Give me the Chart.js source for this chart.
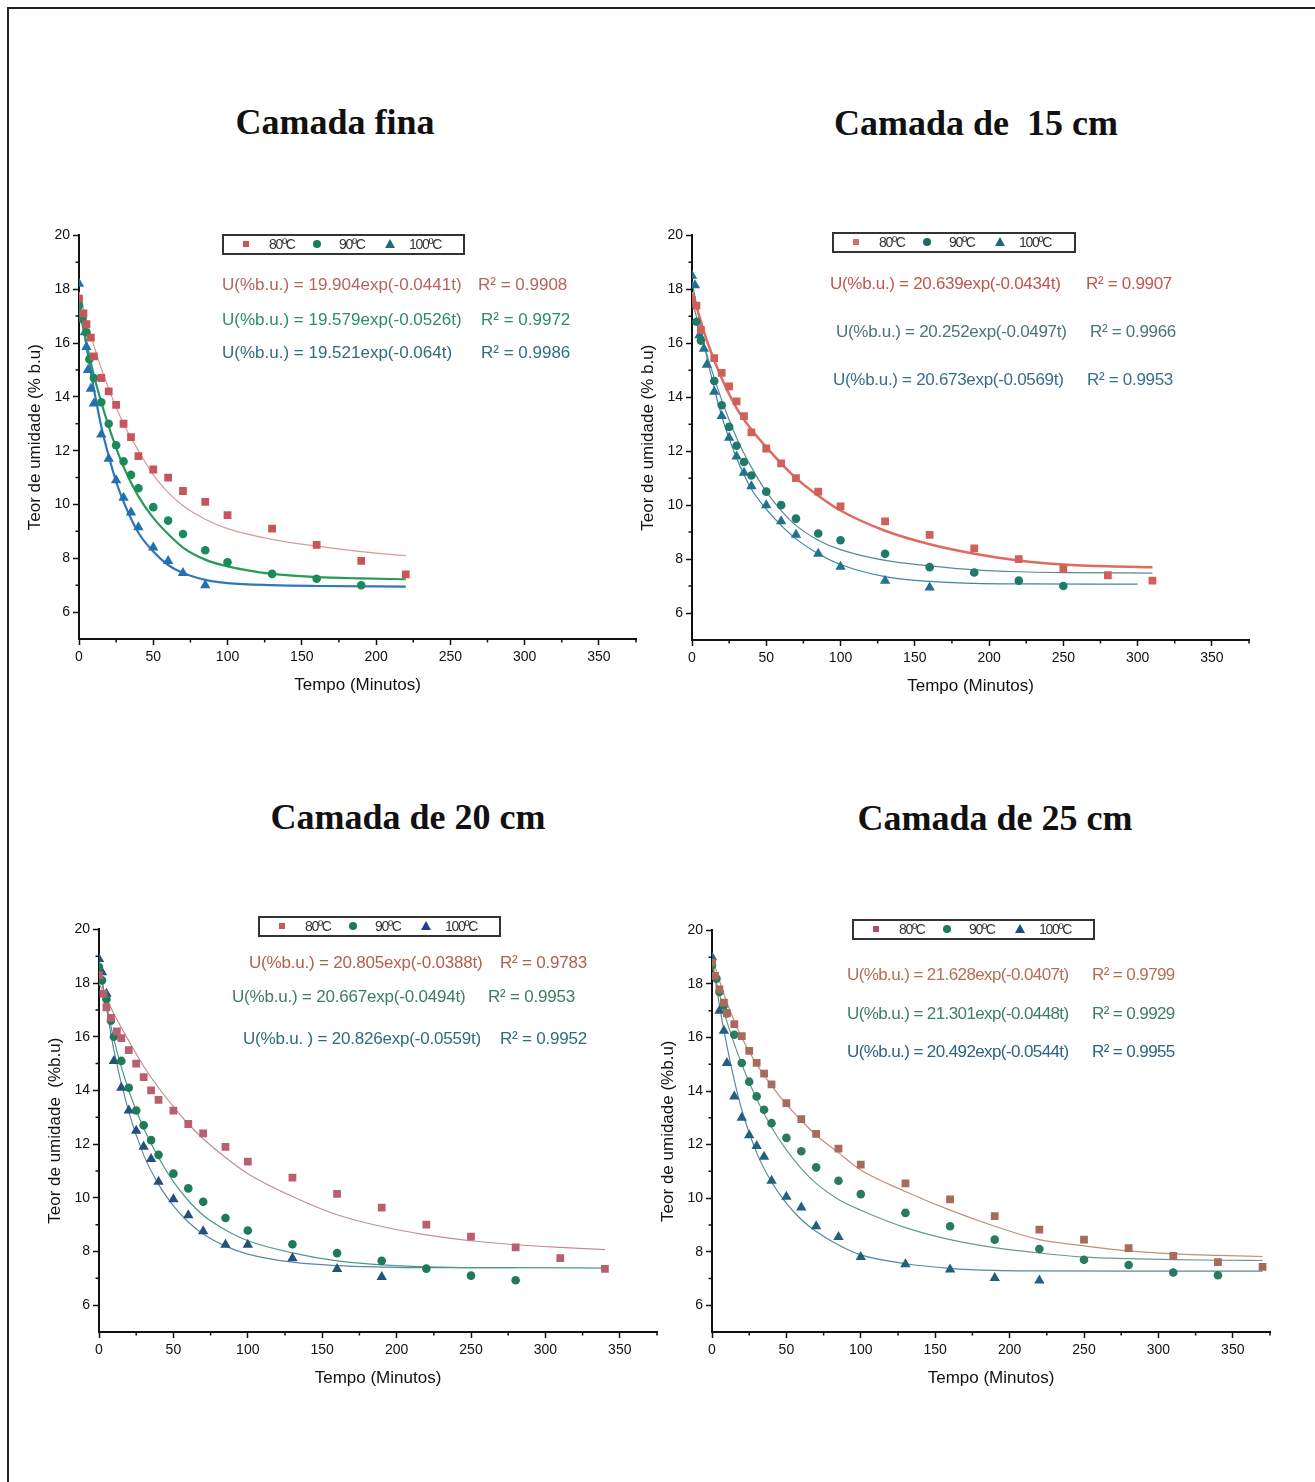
<!DOCTYPE html>
<html>
<head>
<meta charset="utf-8">
<script src="https://cdn.jsdelivr.net/npm/chart.js@4.4.0/dist/chart.umd.min.js"></script>
<style>
	body { margin: 0; background: #fff; width: 1315px; height: 1482px; position: relative; overflow: hidden; font-family: "Liberation Sans", Arial, sans-serif; }
	.frame { position: absolute; left: 7px; top: 7px; width: 1330px; height: 1500px; border-top: 2px solid #222; border-left: 2px solid #222; }
	.title { position: absolute; font: bold 36px "Liberation Serif", "Times New Roman", serif; color: #111; line-height: 42px; transform: translateX(-50%); white-space: pre; }
	canvas { position: absolute; }
	.eq { position: absolute; font-size: 17px; line-height: 20px; white-space: pre; }
	.legend { position: absolute; height: 17px; border: 2px solid #333; background: #fff; }
	.legend span { position: absolute; top: 0; font-size: 14px; line-height: 17px; letter-spacing: -1.3px; color: #333; }
</style>
</head>
<body>
<div class="frame"></div>

<script>
// tick values
const xTicks = [0, 50, 100, 150, 200, 250, 300, 350];
const xMinor = [25, 75, 125, 175, 225, 275, 325, 375];
const yTicks = [6, 8, 10, 12, 14, 16, 18, 20];
const yMinor = [7, 9, 11, 13, 15, 17, 19];
const temps = ['80ºC', '90ºC', '100ºC'];

// Camada fina: [tempo (min), U (%b.u.)]
const fina80 = [[0, 17.65], [3, 17.1], [5, 16.7], [8, 16.2], [10, 15.5], [15, 14.7], [20, 14.2], [25, 13.7], [30, 13.0], [35, 12.5], [40, 11.8], [50, 11.3], [60, 11.0], [70, 10.5], [85, 10.1], [100, 9.6], [130, 9.1], [160, 8.5], [190, 7.9], [220, 7.4]];
const fina90 = [[0, 17.4], [2, 16.9], [5, 16.4], [7, 15.4], [10, 14.7], [15, 13.8], [20, 13.0], [25, 12.2], [30, 11.6], [35, 11.1], [40, 10.6], [50, 9.9], [60, 9.4], [70, 8.9], [85, 8.3], [100, 7.85], [130, 7.42], [160, 7.24], [190, 7.0]];
const fina100 = [[0, 18.2], [2, 17.0], [4, 16.4], [5, 15.85], [6, 15.0], [8, 14.3], [10, 13.75], [15, 12.6], [20, 11.7], [25, 10.9], [30, 10.25], [35, 9.7], [40, 9.15], [50, 8.4], [60, 7.9], [70, 7.45], [85, 7.0]];
const finaFit80 = [[0, 17.9], [10, 15.9], [20, 14.3], [30, 13.0], [40, 12.0], [50, 11.1], [60, 10.45], [70, 9.95], [85, 9.45], [100, 9.1], [130, 8.7], [160, 8.45], [190, 8.25], [220, 8.1]];
const finaFit90 = [[0, 17.3], [5, 16.0], [10, 14.8], [15, 13.8], [20, 12.9], [25, 12.1], [30, 11.4], [40, 10.3], [50, 9.5], [60, 8.9], [70, 8.4], [85, 7.95], [100, 7.7], [130, 7.42], [160, 7.3], [190, 7.25], [220, 7.22]];
const finaFit100 = [[0, 17.8], [5, 15.9], [10, 14.3], [15, 12.9], [20, 11.8], [25, 10.85], [30, 10.1], [40, 8.95], [50, 8.25], [60, 7.75], [70, 7.45], [85, 7.2], [100, 7.08], [130, 7.0], [160, 6.97], [220, 6.95]];

// Camada de 15 cm
const c15_80 = [[0, 17.6], [3, 17.4], [6, 16.5], [15, 15.45], [20, 14.9], [25, 14.4], [30, 13.85], [35, 13.3], [40, 12.7], [50, 12.1], [60, 11.55], [70, 11.0], [85, 10.5], [100, 9.95], [130, 9.4], [160, 8.9], [190, 8.4], [220, 8.0], [250, 7.65], [280, 7.4], [310, 7.2]];
const c15_90 = [[0, 17.5], [3, 16.8], [6, 16.1], [15, 14.6], [20, 13.7], [25, 12.9], [30, 12.2], [35, 11.6], [40, 11.1], [50, 10.5], [60, 10.0], [70, 9.5], [85, 8.95], [100, 8.7], [130, 8.2], [160, 7.7], [190, 7.5], [220, 7.2], [250, 7.0]];
const c15_100 = [[0, 18.5], [2, 18.15], [5, 16.3], [8, 15.8], [10, 15.2], [15, 14.2], [20, 13.3], [25, 12.5], [30, 11.8], [35, 11.2], [40, 10.7], [50, 10.0], [60, 9.4], [70, 8.9], [85, 8.2], [100, 7.72], [130, 7.2], [160, 6.95]];
const c15Fit80 = [[0, 17.9], [5, 17.0], [10, 16.1], [20, 14.7], [30, 13.6], [40, 12.8], [50, 12.15], [60, 11.55], [70, 11.0], [85, 10.35], [100, 9.8], [130, 9.05], [160, 8.55], [190, 8.2], [220, 7.95], [250, 7.8], [280, 7.73], [310, 7.7]];
const c15Fit90 = [[0, 17.6], [10, 15.6], [20, 13.9], [30, 12.5], [40, 11.4], [50, 10.5], [60, 9.8], [70, 9.25], [85, 8.7], [100, 8.35], [130, 7.95], [160, 7.75], [190, 7.6], [220, 7.53], [250, 7.5], [310, 7.48]];
const c15Fit100 = [[0, 18.3], [10, 15.5], [20, 13.3], [30, 11.75], [40, 10.6], [50, 9.85], [60, 9.25], [70, 8.75], [85, 8.2], [100, 7.8], [130, 7.35], [160, 7.17], [190, 7.1], [220, 7.08], [300, 7.07]];

// Camada de 20 cm
const c20_80 = [[0, 18.3], [3, 17.6], [5, 17.1], [8, 16.7], [12, 16.2], [15, 15.95], [20, 15.5], [25, 15.0], [30, 14.5], [35, 14.0], [40, 13.65], [50, 13.25], [60, 12.75], [70, 12.4], [85, 11.9], [100, 11.35], [130, 10.75], [160, 10.15], [190, 9.63], [220, 9.0], [250, 8.55], [280, 8.15], [310, 7.75], [340, 7.35]];
const c20_90 = [[0, 18.6], [2, 18.1], [5, 17.4], [8, 16.6], [10, 16.0], [15, 15.1], [20, 14.1], [25, 13.25], [30, 12.7], [35, 12.15], [40, 11.6], [50, 10.9], [60, 10.35], [70, 9.85], [85, 9.25], [100, 8.78], [130, 8.27], [160, 7.94], [190, 7.65], [220, 7.36], [250, 7.1], [280, 6.93]];
const c20_100 = [[0, 18.9], [2, 18.4], [5, 17.6], [10, 15.1], [15, 14.1], [20, 13.25], [25, 12.5], [30, 11.9], [35, 11.45], [40, 10.6], [50, 9.95], [60, 9.35], [70, 8.75], [85, 8.25], [100, 8.25], [130, 7.75], [160, 7.35], [190, 7.05]];
const c20Fit80 = [[0, 18.0], [10, 16.86], [20, 15.85], [30, 14.9], [40, 14.1], [50, 13.4], [60, 12.75], [70, 12.2], [85, 11.5], [100, 10.9], [130, 10.05], [160, 9.37], [190, 8.93], [220, 8.62], [250, 8.4], [280, 8.25], [310, 8.15], [340, 8.07]];
const c20Fit90 = [[0, 18.6], [10, 15.9], [20, 14.0], [30, 12.6], [40, 11.5], [50, 10.6], [60, 9.9], [70, 9.35], [85, 8.8], [100, 8.4], [130, 7.95], [160, 7.65], [190, 7.5], [220, 7.43], [250, 7.4], [280, 7.4], [340, 7.38]];
const c20Fit100 = [[0, 18.8], [10, 15.5], [20, 13.2], [30, 11.6], [40, 10.5], [50, 9.7], [60, 9.1], [70, 8.65], [85, 8.2], [100, 7.9], [130, 7.6], [160, 7.47], [190, 7.42], [220, 7.4], [280, 7.4]];

// Camada de 25 cm
const c25_80 = [[0, 18.8], [2, 18.3], [5, 17.8], [8, 17.3], [10, 16.9], [15, 16.5], [20, 16.05], [25, 15.5], [30, 15.05], [35, 14.65], [40, 14.25], [50, 13.55], [60, 12.95], [70, 12.4], [85, 11.85], [100, 11.25], [130, 10.55], [160, 9.95], [190, 9.33], [220, 8.82], [250, 8.45], [280, 8.13], [310, 7.84], [340, 7.61], [370, 7.43]];
const c25_90 = [[0, 18.7], [3, 18.2], [5, 17.7], [8, 17.2], [10, 16.9], [15, 16.1], [20, 15.05], [25, 14.35], [30, 13.8], [35, 13.3], [40, 12.8], [50, 12.25], [60, 11.75], [70, 11.15], [85, 10.65], [100, 10.15], [130, 9.45], [160, 8.95], [190, 8.45], [220, 8.1], [250, 7.7], [280, 7.5], [310, 7.22], [340, 7.12]];
const c25_100 = [[0, 19.0], [5, 17.0], [8, 16.25], [10, 15.05], [15, 13.8], [20, 13.0], [25, 12.35], [30, 11.95], [35, 11.55], [40, 10.65], [50, 10.05], [60, 9.65], [70, 8.95], [85, 8.55], [100, 7.8], [130, 7.53], [160, 7.33], [190, 7.02], [220, 6.92]];
const c25Fit80 = [[0, 19.0], [10, 17.3], [20, 16.0], [30, 15.0], [40, 14.2], [50, 13.5], [60, 12.9], [70, 12.35], [85, 11.7], [100, 11.05], [130, 10.25], [160, 9.55], [190, 8.95], [220, 8.45], [250, 8.22], [280, 8.03], [310, 7.92], [340, 7.86], [370, 7.82]];
const c25Fit90 = [[0, 18.7], [10, 16.6], [20, 15.0], [30, 13.7], [40, 12.65], [50, 11.8], [60, 11.1], [70, 10.55], [85, 9.95], [100, 9.55], [130, 8.9], [160, 8.45], [190, 8.15], [220, 7.95], [250, 7.8], [280, 7.74], [310, 7.7], [340, 7.68], [370, 7.67]];
const c25Fit100 = [[0, 19.0], [5, 17.2], [10, 15.7], [15, 14.4], [20, 13.3], [30, 11.7], [40, 10.6], [50, 9.8], [60, 9.2], [70, 8.75], [85, 8.25], [100, 7.88], [130, 7.55], [160, 7.38], [190, 7.3], [220, 7.28], [280, 7.27], [370, 7.27]];

// equations shown on each plot
const finaEq = [['U(%b.u.) = 19.904exp(-0.0441t)', 'R² = 0.9908'], ['U(%b.u.) = 19.579exp(-0.0526t)', 'R² = 0.9972'], ['U(%b.u.) = 19.521exp(-0.064t)', 'R² = 0.9986']];
const c15Eq = [['U(%b.u.) = 20.639exp(-0.0434t)', 'R² = 0.9907'], ['U(%b.u.) = 20.252exp(-0.0497t)', 'R² = 0.9966'], ['U(%b.u.) = 20.673exp(-0.0569t)', 'R² = 0.9953']];
const c20Eq = [['U(%b.u.) = 20.805exp(-0.0388t)', 'R² = 0.9783'], ['U(%b.u.) = 20.667exp(-0.0494t)', 'R² = 0.9953'], ['U(%b.u. ) = 20.826exp(-0.0559t)', 'R² = 0.9952']];
const c25Eq = [['U(%b.u.) = 21.628exp(-0.0407t)', 'R² = 0.9799'], ['U(%b.u.) = 21.301exp(-0.0448t)', 'R² = 0.9929'], ['U(%b.u.) = 20.492exp(-0.0544t)', 'R² = 0.9955']];

const font = '"Liberation Sans", Arial, sans-serif';

const panels = [
	{
		title: 'Camada fina', tx: 335, ty: 122, yTitle: 'Teor de umidade (% b.u)',
		box: {left: 19, top: 224, w: 627, h: 475},
		legend: {left: 222, top: 234, w: 243, colors: ['#d05050', '#1a7a60', '#1a6a78']},
		points: [fina80, fina90, fina100], fits: [finaFit80, finaFit90, finaFit100],
		pointColors: ['#c8555a', '#1b8a5a', '#2270b0'],
		lineColors: ['#d99a9a', '#2a9a58', '#2f78c0'], lineWidths: [1.2, 2.2, 2.2],
		eq: finaEq, eqPos: [[222, 285, 478], [222, 320, 481], [222, 353, 481]], eqSpacing: 0,
		eqColors: ['#b5655e', '#2c8a6e', '#2f6d80']
	},
	{
		title: 'Camada de  15 cm', tx: 976, ty: 123, yTitle: 'Teor de umidade (% b.u)',
		box: {left: 632, top: 224, w: 627, h: 476},
		legend: {left: 832, top: 232, w: 244, colors: ['#d07060', '#1a6a60', '#1f6a8a']},
		points: [c15_80, c15_90, c15_100], fits: [c15Fit80, c15Fit90, c15Fit100],
		pointColors: ['#d0605a', '#1f7a6a', '#23708f'],
		lineColors: ['#e06a60', '#5a8a90', '#3a88a8'], lineWidths: [2.5, 1.2, 1.2],
		eq: c15Eq, eqPos: [[830, 284, 1086], [836, 332, 1090], [833, 380, 1087]], eqSpacing: -0.3,
		eqColors: ['#c0564e', '#4b7479', '#3a6d8a']
	},
	{
		title: 'Camada de 20 cm', tx: 408, ty: 817, yTitle: 'Teor de umidade  (%b.u)',
		box: {left: 39, top: 918, w: 628, h: 474},
		legend: {left: 258, top: 916, w: 243, colors: ['#c85a50', '#1a7a50', '#2a3a9a']},
		points: [c20_80, c20_90, c20_100], fits: [c20Fit80, c20Fit90, c20Fit100],
		pointColors: ['#b86070', '#1f7a5a', '#24507a'],
		lineColors: ['#c09090', '#4a9a88', '#5a88a8'], lineWidths: [1.2, 1.2, 1.2],
		eq: c20Eq, eqPos: [[249, 963, 500], [232, 997, 488], [243, 1039, 500]], eqSpacing: -0.2,
		eqColors: ['#b0604c', '#3d7d5e', '#2d6d7a']
	},
	{
		title: 'Camada de 25 cm', tx: 995, ty: 818, yTitle: 'Teor de umidade (%b.u)',
		box: {left: 652, top: 919, w: 628, h: 473},
		legend: {left: 852, top: 919, w: 243, colors: ['#b04a70', '#1a7a5a', '#1a4a8a']},
		points: [c25_80, c25_90, c25_100], fits: [c25Fit80, c25Fit90, c25Fit100],
		pointColors: ['#a86a5a', '#2a7a60', '#22607f'],
		lineColors: ['#c0907a', '#6a9a8a', '#5a88a0'], lineWidths: [1.2, 1.2, 1.2],
		eq: c25Eq, eqPos: [[847, 975, 1092], [847, 1014, 1092], [847, 1052, 1092]], eqSpacing: -0.6,
		eqColors: ['#b86e55', '#3f7e66', '#2d6385']
	}
];

const styles = ['rect', 'circle', 'triangle'];
const radii = [5.5, 4.3, 6];

// short ticks between the labelled ones
const minorTicks = {
	id: 'minorTicks',
	afterDraw(chart) {
		const {ctx, chartArea, scales: {x, y}} = chart;
		ctx.save();
		ctx.strokeStyle = '#111';
		ctx.lineWidth = 1.5;
		ctx.beginPath();
		xMinor.forEach(v => {
			const px = x.getPixelForValue(v);
			ctx.moveTo(px, chartArea.bottom);
			ctx.lineTo(px, chartArea.bottom + 3.5);
		});
		yMinor.forEach(v => {
			const py = y.getPixelForValue(v);
			ctx.moveTo(chartArea.left, py);
			ctx.lineTo(chartArea.left - 3.5, py);
		});
		ctx.stroke();
		ctx.restore();
	}
};

function el(tag, cls, css, text, parent) {
	const e = document.createElement(tag);
	if (cls) e.className = cls;
	Object.assign(e.style, css);
	if (text !== undefined) e.textContent = text;
	(parent || document.body).appendChild(e);
	return e;
}

function addLegend(lg) {
	const box = el('div', 'legend', {left: lg.left + 'px', top: lg.top + 'px', width: (lg.w - 4) + 'px'});
	el('div', null, {position: 'absolute', left: '19px', top: '5px', width: '6px', height: '6px', background: lg.colors[0]}, undefined, box);
	el('div', null, {position: 'absolute', left: '89px', top: '4px', width: '8px', height: '8px', borderRadius: '50%', background: lg.colors[1]}, undefined, box);
	el('div', null, {position: 'absolute', left: '161px', top: '3px', width: 0, height: 0,
		borderLeft: '5px solid transparent', borderRight: '5px solid transparent', borderBottom: '9px solid ' + lg.colors[2]}, undefined, box);
	[[45, temps[0]], [115, temps[1]], [185, temps[2]]].forEach(([x, t]) => {
		el('span', null, {left: x + 'px'}, t, box);
	});
}

panels.forEach(p => {
	el('div', 'title', {left: p.tx + 'px', top: (p.ty - 21) + 'px'}, p.title);

	const canvas = el('canvas', null, {left: p.box.left + 'px', top: p.box.top + 'px'});
	canvas.width = p.box.w;
	canvas.height = p.box.h;

	const datasets = [];
	p.points.forEach((pts, i) => {
		datasets.push({
			label: temps[i],
			data: pts.map(([t, u]) => ({x: t, y: u})),
			pointStyle: styles[i],
			pointRadius: radii[i],
			backgroundColor: p.pointColors[i],
			borderWidth: 0,
			order: 1
		});
		datasets.push({
			label: temps[i] + ' ajuste',
			data: p.fits[i].map(([t, u]) => ({x: t, y: u})),
			showLine: true,
			pointRadius: 0,
			borderColor: p.lineColors[i],
			borderWidth: p.lineWidths[i],
			cubicInterpolationMode: 'monotone',
			order: 2
		});
	});

	new Chart(canvas, {
		type: 'scatter',
		data: {datasets},
		options: {
			responsive: false,
			animation: false,
			devicePixelRatio: 1,
			layout: {padding: {top: 10, right: 10, left: 0, bottom: 0}},
			plugins: {legend: {display: false}, tooltip: {enabled: false}},
			scales: {
				x: {
					type: 'linear', min: 0, max: 375,
					afterBuildTicks: s => { s.ticks = xTicks.map(v => ({value: v})); },
					afterFit: s => { s.height = 60; },
					ticks: {autoSkip: false, maxRotation: 0, padding: 4, color: '#111', font: {size: 14, family: font}},
					grid: {drawOnChartArea: false, drawTicks: true, tickLength: 6, tickColor: '#111', tickWidth: 1.5},
					border: {display: true, color: '#111', width: 2},
					title: {display: true, text: 'Tempo (Minutos)', color: '#111', font: {size: 17, family: font}, padding: {top: 0, bottom: 3}}
				},
				y: {
					type: 'linear', min: 5, max: 20,
					afterBuildTicks: s => { s.ticks = yTicks.map(v => ({value: v})); },
					afterFit: s => { s.width = 60; },
					ticks: {padding: 3, color: '#111', font: {size: 14, family: font}},
					grid: {drawOnChartArea: false, drawTicks: true, tickLength: 6, tickColor: '#111', tickWidth: 1.5},
					border: {display: true, color: '#111', width: 2},
					title: {display: true, text: p.yTitle, color: '#111', font: {size: 17, family: font}, padding: {top: 6, bottom: 0}}
				}
			}
		},
		plugins: [minorTicks]
	});

	addLegend(p.legend);

	p.eq.forEach(([txt, r2], i) => {
		const [x, y, rx] = p.eqPos[i];
		el('div', 'eq', {left: x + 'px', top: (y - 10) + 'px', color: p.eqColors[i], letterSpacing: p.eqSpacing + 'px'}, txt);
		el('div', 'eq', {left: rx + 'px', top: (y - 10) + 'px', color: p.eqColors[i], letterSpacing: p.eqSpacing + 'px'}, r2);
	});
});
</script>
</body>
</html>
